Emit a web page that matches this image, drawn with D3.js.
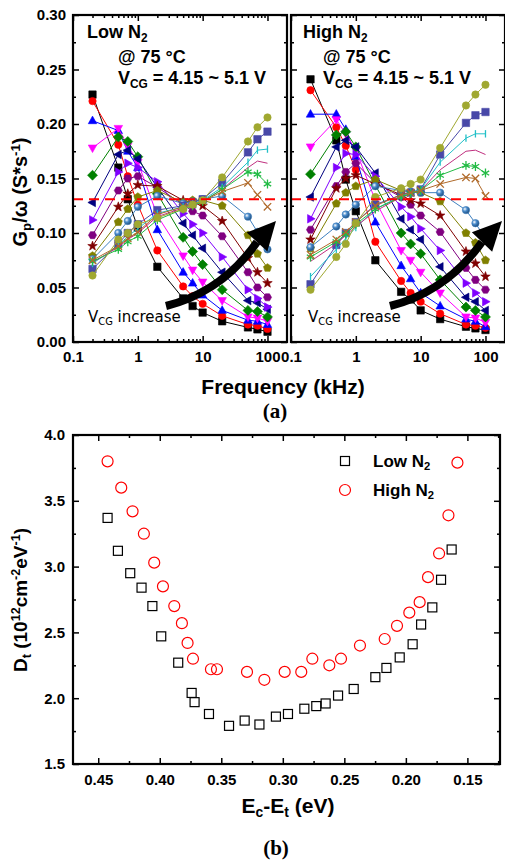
<!DOCTYPE html>
<html>
<head>
<meta charset="utf-8">
<script src="https://cdn.jsdelivr.net/npm/d3@7"></script>
<style>
body { margin: 0; background: #fff; }
svg { font-family: "Liberation Sans", Arial, sans-serif; font-weight: bold; }
</style>
</head>
<body>
<svg id="fig" width="505" height="863"></svg>
<script>
// ---- data (a): Gp/w vs frequency, one row per VCG step (4.15 -> 5.1 V)
var freqKHz = [0.2, 0.5, 0.7, 1, 2, 5, 7, 10, 20, 50, 70, 100];

var gpLowN2 = [
  [0.227, 0.160, 0.131, 0.105, 0.069, 0.040, 0.033, 0.027, 0.019, 0.0134, 0.0116, 0.0094],
  [0.221, 0.181, 0.152, 0.126, 0.084, 0.051, 0.042, 0.035, 0.024, 0.016, 0.015, 0.012],
  [0.203, 0.194, 0.175, 0.160, 0.103, 0.064, 0.054, 0.043, 0.029, 0.020, 0.019, 0.016],
  [0.178, 0.196, 0.180, 0.165, 0.116, 0.079, 0.066, 0.055, 0.038, 0.023, 0.022, 0.019],
  [0.153, 0.188, 0.184, 0.170, 0.136, 0.096, 0.083, 0.071, 0.048, 0.029, 0.028, 0.023],
  [0.128, 0.172, 0.176, 0.168, 0.142, 0.109, 0.098, 0.086, 0.064, 0.038, 0.036, 0.030],
  [0.112, 0.156, 0.164, 0.160, 0.147, 0.118, 0.108, 0.100, 0.078, 0.048, 0.040, 0.032],
  [0.098, 0.139, 0.150, 0.152, 0.142, 0.126, 0.120, 0.116, 0.097, 0.064, 0.050, 0.041],
  [0.088, 0.124, 0.136, 0.144, 0.143, 0.130, 0.128, 0.125, 0.111, 0.077, 0.064, 0.054],
  [0.079, 0.110, 0.122, 0.133, 0.139, 0.128, 0.130, 0.130, 0.125, 0.098, 0.081, 0.068],
  [0.076, 0.100, 0.111, 0.124, 0.134, 0.127, 0.129, 0.131, 0.134, 0.115, 0.101, 0.085],
  [0.067, 0.090, 0.100, 0.108, 0.121, 0.125, 0.128, 0.131, 0.146, 0.174, 0.186, 0.193],
  [0.072, 0.088, 0.097, 0.104, 0.118, 0.124, 0.127, 0.130, 0.142, 0.165, 0.176, 0.177],
  [0.073, 0.087, 0.094, 0.100, 0.115, 0.123, 0.126, 0.129, 0.140, 0.160, 0.166, 0.164],
  [0.074, 0.085, 0.092, 0.097, 0.112, 0.122, 0.125, 0.129, 0.140, 0.156, 0.154, 0.145],
  [0.075, 0.088, 0.095, 0.101, 0.117, 0.124, 0.127, 0.129, 0.138, 0.146, 0.135, 0.124],
  [0.061, 0.094, 0.100, 0.108, 0.114, 0.122, 0.126, 0.130, 0.151, 0.184, 0.197, 0.206]
];

var gpHighN2 = [
  [0.241, 0.185, 0.149, 0.120, 0.075, 0.046, 0.039, 0.029, 0.021, 0.014, 0.0125, 0.011],
  [0.231, 0.197, 0.180, 0.158, 0.092, 0.056, 0.045, 0.037, 0.026, 0.016, 0.015, 0.013],
  [0.209, 0.209, 0.195, 0.170, 0.110, 0.070, 0.058, 0.045, 0.033, 0.021, 0.019, 0.014],
  [0.179, 0.204, 0.191, 0.176, 0.130, 0.084, 0.075, 0.064, 0.045, 0.023, 0.022, 0.018],
  [0.154, 0.190, 0.193, 0.179, 0.144, 0.100, 0.090, 0.081, 0.057, 0.032, 0.029, 0.023],
  [0.133, 0.179, 0.185, 0.179, 0.155, 0.113, 0.103, 0.094, 0.069, 0.041, 0.037, 0.029],
  [0.113, 0.160, 0.173, 0.172, 0.152, 0.124, 0.115, 0.104, 0.084, 0.054, 0.045, 0.037],
  [0.103, 0.143, 0.156, 0.164, 0.146, 0.133, 0.126, 0.116, 0.101, 0.068, 0.057, 0.048],
  [0.094, 0.141, 0.150, 0.153, 0.145, 0.135, 0.130, 0.127, 0.116, 0.083, 0.072, 0.060],
  [0.086, 0.127, 0.137, 0.143, 0.149, 0.139, 0.138, 0.137, 0.129, 0.100, 0.091, 0.075],
  [0.087, 0.106, 0.117, 0.126, 0.143, 0.139, 0.138, 0.137, 0.137, 0.121, 0.109, 0.095],
  [0.053, 0.089, 0.100, 0.110, 0.126, 0.135, 0.137, 0.140, 0.172, 0.201, 0.208, 0.211],
  [0.060, 0.085, 0.095, 0.105, 0.122, 0.134, 0.137, 0.140, 0.165, 0.187, 0.191, 0.191],
  [0.074, 0.090, 0.098, 0.106, 0.120, 0.133, 0.136, 0.139, 0.158, 0.175, 0.176, 0.172],
  [0.078, 0.092, 0.099, 0.108, 0.122, 0.133, 0.136, 0.139, 0.153, 0.162, 0.161, 0.155],
  [0.080, 0.094, 0.101, 0.110, 0.125, 0.135, 0.137, 0.139, 0.145, 0.151, 0.150, 0.134],
  [0.048, 0.078, 0.090, 0.109, 0.133, 0.141, 0.145, 0.149, 0.178, 0.217, 0.227, 0.236]
];

var seriesColors = ['#000000', '#ff0000', '#0000ff', '#ff00ff', '#008000', '#000080', '#8000ff', '#800080',
                    '#800000', '#808000', '#3e7fbf', '#4848a8', '#22c0c8', '#c0307f', '#22bb44', '#b06a2a', '#a0a830'];
var seriesShapes = ['square', 'circle', 'up', 'down', 'diamond', 'left', 'right', 'hex',
                    'star', 'pent', 'sphere', 'square', 'ibar', 'none', 'asterisk', 'x', 'circle'];

var freqTicks = [0.1, 1, 10, 100];
var gpTicks = [0, 0.05, 0.10, 0.15, 0.20, 0.25, 0.30];
var gpRef = 0.131;

// ---- data (b): trap density vs energy
var lowEnergy = [0.4424, 0.434, 0.424, 0.4148, 0.406, 0.3988, 0.385, 0.3741, 0.3717, 0.360, 0.3437, 0.331, 0.319, 0.3056,
                 0.2958, 0.2825, 0.2728, 0.2652, 0.2551, 0.2424, 0.2248, 0.2158, 0.205, 0.1945, 0.1876, 0.1785, 0.1714, 0.1628];
var lowDt = [3.37, 3.12, 2.95, 2.84, 2.70, 2.47, 2.27, 2.04, 1.97, 1.88, 1.79, 1.83, 1.80, 1.86,
             1.88, 1.92, 1.94, 1.96, 2.02, 2.07, 2.16, 2.23, 2.31, 2.41, 2.56, 2.69, 2.90, 3.13];
var highEnergy = [0.4424, 0.4313, 0.4221, 0.4129, 0.4045, 0.3974, 0.3882, 0.382, 0.3774, 0.373, 0.3584, 0.3535, 0.3291, 0.315,
                  0.2985, 0.285, 0.276, 0.2622, 0.2527, 0.2373, 0.2172, 0.2072, 0.1972, 0.1888, 0.182, 0.173, 0.1654, 0.1581];
var highDt = [3.80, 3.60, 3.42, 3.25, 3.03, 2.85, 2.70, 2.57, 2.42, 2.30, 2.22, 2.22, 2.20, 2.14,
              2.20, 2.20, 2.30, 2.25, 2.30, 2.40, 2.45, 2.55, 2.65, 2.73, 2.92, 3.10, 3.39, 3.79];
var energyTicks = [0.45, 0.40, 0.35, 0.30, 0.25, 0.20, 0.15];
var dtTicks = [1.5, 2.0, 2.5, 3.0, 3.5, 4.0];

var svg = d3.select('#fig');

var defs = svg.append('defs');
var grad = defs.append('radialGradient').attr('id', 'sph').attr('cx', '35%').attr('cy', '35%').attr('r', '65%');
grad.append('stop').attr('offset', '0%').attr('stop-color', '#ffffff');
grad.append('stop').attr('offset', '45%').attr('stop-color', '#4a8ccc');
grad.append('stop').attr('offset', '100%').attr('stop-color', '#1f4f80');

function markerPath(type, r) {
  var p, i, a;
  switch (type) {
    case 'square': return 'M' + (-r) + ',' + (-r) + 'h' + 2 * r + 'v' + 2 * r + 'h' + (-2 * r) + 'Z';
    case 'circle':
    case 'sphere':
      return 'M' + r + ',0A' + r + ',' + r + ' 0 1,1 ' + (-r) + ',0A' + r + ',' + r + ' 0 1,1 ' + r + ',0Z';
    case 'up': return 'M0,' + (-r * 1.25) + 'L' + (r * 1.15) + ',' + (r * 0.8) + 'L' + (-r * 1.15) + ',' + (r * 0.8) + 'Z';
    case 'down': return 'M0,' + (r * 1.25) + 'L' + (r * 1.15) + ',' + (-r * 0.8) + 'L' + (-r * 1.15) + ',' + (-r * 0.8) + 'Z';
    case 'left': return 'M' + (-r * 1.25) + ',0L' + (r * 0.8) + ',' + (-r * 1.15) + 'L' + (r * 0.8) + ',' + (r * 1.15) + 'Z';
    case 'right': return 'M' + (r * 1.25) + ',0L' + (-r * 0.8) + ',' + (-r * 1.15) + 'L' + (-r * 0.8) + ',' + (r * 1.15) + 'Z';
    case 'diamond': return 'M0,' + (-r * 1.35) + 'L' + (r * 1.35) + ',0L0,' + (r * 1.35) + 'L' + (-r * 1.35) + ',0Z';
    case 'hex':
      p = [];
      for (i = 0; i < 6; i++) { a = Math.PI / 3 * i; p.push([r * 1.1 * Math.cos(a), r * 1.1 * Math.sin(a)]); }
      return 'M' + p.join('L') + 'Z';
    case 'pent':
      p = [];
      for (i = 0; i < 5; i++) { a = -Math.PI / 2 + 2 * Math.PI / 5 * i; p.push([r * 1.15 * Math.cos(a), r * 1.15 * Math.sin(a)]); }
      return 'M' + p.join('L') + 'Z';
    case 'star':
      p = [];
      for (i = 0; i < 10; i++) {
        a = -Math.PI / 2 + Math.PI / 5 * i;
        var rr = i % 2 ? r * 0.55 : r * 1.35;
        p.push([rr * Math.cos(a), rr * Math.sin(a)]);
      }
      return 'M' + p.join('L') + 'Z';
    case 'ibar': return 'M0,' + (-r) + 'V' + r;
    case 'asterisk':
      return 'M0,' + (-r * 1.2) + 'V' + (r * 1.2) + 'M' + (-r) + ',' + (-r * 0.6) + 'L' + r + ',' + (r * 0.6) +
             'M' + (-r) + ',' + (r * 0.6) + 'L' + r + ',' + (-r * 0.6);
    case 'x': return 'M' + (-r) + ',' + (-r) + 'L' + r + ',' + r + 'M' + (-r) + ',' + r + 'L' + r + ',' + (-r);
  }
  return '';
}
var strokeOnly = { ibar: 1, asterisk: 1, x: 1, none: 1 };

function cleanAxis(g) {
  g.select('.domain').remove();
  g.selectAll('line').attr('stroke', '#000').attr('stroke-width', 1.5);
  g.selectAll('text').style('font-family', '"Liberation Sans", Arial, sans-serif')
    .style('font-weight', 'bold').style('font-size', '15px').attr('fill', '#000');
}

// sub / superscript helper (small shifts so stacked lines don't collide)
function richText(sel, parts, size) {
  parts.forEach(function (p) {
    var t = sel.append('tspan').text(p[0]);
    if (p[1] === 'sub') t.attr('baseline-shift', (-size * 0.2) + 'px').style('font-size', (size * 0.66) + 'px');
    if (p[1] === 'sup') t.attr('baseline-shift', (size * 0.36) + 'px').style('font-size', (size * 0.66) + 'px');
  });
  return sel;
}

// ================= (a) =================
var topY0 = 15, topY1 = 342;
var yGp = d3.scaleLinear().domain([0, 0.30]).range([topY1, topY0]);
var gpMinor = d3.range(0.025, 0.30, 0.05);
var freqMinor = [];
[0.1, 1, 10, 100].forEach(function (d) { for (var k = 2; k <= 9; k++) { if (d * k < 200) freqMinor.push(d * k); } });

function drawPanel(x0, x1, rows, title, textX, arrow) {
  var x = d3.scaleLog().domain([0.1, 200]).range([x0, x1]);
  var g = svg.append('g');

  // axes (ticks inward)
  g.append('g').attr('transform', 'translate(0,' + topY1 + ')')
    .call(d3.axisBottom(x).tickValues(freqTicks).tickSize(-6).tickSizeOuter(0).tickPadding(9).tickFormat(d3.format('~g')))
    .call(cleanAxis);
  g.append('g').attr('transform', 'translate(0,' + topY1 + ')')
    .call(d3.axisBottom(x).tickValues(freqMinor).tickSize(-3).tickSizeOuter(0).tickFormat('')).call(cleanAxis);
  g.append('g').attr('transform', 'translate(0,' + topY0 + ')')
    .call(d3.axisTop(x).tickValues(freqTicks).tickSize(-6).tickSizeOuter(0).tickFormat('')).call(cleanAxis);
  g.append('g').attr('transform', 'translate(0,' + topY0 + ')')
    .call(d3.axisTop(x).tickValues(freqMinor).tickSize(-3).tickSizeOuter(0).tickFormat('')).call(cleanAxis);
  g.append('g').attr('transform', 'translate(' + x0 + ',0)')
    .call(d3.axisLeft(yGp).tickValues(gpTicks).tickSize(-6).tickSizeOuter(0).tickPadding(7)
      .tickFormat(x0 < 100 ? d3.format('.2f') : '')).call(cleanAxis);
  g.append('g').attr('transform', 'translate(' + x0 + ',0)')
    .call(d3.axisLeft(yGp).tickValues(gpMinor).tickSize(-3).tickSizeOuter(0).tickFormat('')).call(cleanAxis);
  g.append('g').attr('transform', 'translate(' + x1 + ',0)')
    .call(d3.axisRight(yGp).tickValues(gpTicks).tickSize(-6).tickSizeOuter(0).tickFormat('')).call(cleanAxis);
  g.append('g').attr('transform', 'translate(' + x1 + ',0)')
    .call(d3.axisRight(yGp).tickValues(gpMinor).tickSize(-3).tickSizeOuter(0).tickFormat('')).call(cleanAxis);

  // series
  var line = d3.line().x(function (d, i) { return x(freqKHz[i]); }).y(function (d) { return yGp(d); });
  rows.forEach(function (row, s) {
    var col = seriesColors[s], shape = seriesShapes[s];
    g.append('path').datum(row).attr('d', line).attr('fill', 'none').attr('stroke', col).attr('stroke-width', 1);
    if (shape === 'none') return;
    g.selectAll(null).data(row).enter().append('path')
      .attr('transform', function (d, i) { return 'translate(' + x(freqKHz[i]) + ',' + yGp(d) + ')'; })
      .attr('d', markerPath(shape, 3.7))
      .attr('fill', strokeOnly[shape] ? 'none' : (shape === 'sphere' ? 'url(#sph)' : col))
      .attr('stroke', col).attr('stroke-width', strokeOnly[shape] ? 1.3 : 0.6);
  });

  // reference level
  g.append('line').attr('x1', x0).attr('x2', x1).attr('y1', yGp(gpRef)).attr('y2', yGp(gpRef))
    .attr('stroke', '#ff0000').attr('stroke-width', 2).attr('stroke-dasharray', '10,6');

  // frame
  g.append('rect').attr('x', x0).attr('y', topY0).attr('width', x1 - x0).attr('height', topY1 - topY0)
    .attr('fill', 'none').attr('stroke', '#000').attr('stroke-width', 2.2);

  // labels
  richText(g.append('text').attr('x', textX[0]).attr('y', 38).style('font-size', '18px'), [[title, ''], ['2', 'sub']], 18);
  g.append('text').attr('x', textX[1]).attr('y', 63).style('font-size', '18px').text('@ 75 \u00B0C');
  richText(g.append('text').attr('x', textX[1]).attr('y', 84).style('font-size', '18px'),
    [['V', ''], ['CG', 'sub'], [' = 4.15 ~ 5.1 V', '']], 18);

  // VCG increase arrow
  g.append('path')
    .attr('d', 'M' + arrow.s + 'Q' + arrow.c + ' ' + arrow.b)
    .attr('fill', 'none').attr('stroke', '#000').attr('stroke-width', 8);
  var b = arrow.b, t = arrow.t;
  var dx = t[0] - b[0], dy = t[1] - b[1], len = Math.sqrt(dx * dx + dy * dy);
  var px = -dy / len * 14, py = dx / len * 14;
  g.append('path')
    .attr('d', 'M' + t + 'L' + [b[0] + px, b[1] + py] + 'L' + [b[0] - px, b[1] - py] + 'Z')
    .attr('fill', '#000');
  richText(g.append('text').attr('x', textX[2]).attr('y', 322)
      .style('font-family', '"DejaVu Sans", Verdana, sans-serif').style('font-weight', 'normal').style('font-size', '15px'),
    [['V', ''], ['CG', 'sub'], [' increase', '']], 15);
}

drawPanel(73, 287, gpLowN2, 'Low N', [87, 118, 88],
  { s: [166, 306], c: [222, 292], b: [257, 242], t: [276, 221] });
drawPanel(291, 505, gpHighN2, 'High N', [303, 323, 308],
  { s: [390, 306], c: [446, 292], b: [482, 242], t: [502, 221] });

// axis titles (a)
richText(svg.append('text').attr('transform', 'translate(27,192) rotate(-90)').attr('text-anchor', 'middle')
    .style('font-size', '20px'),
  [['G', ''], ['p', 'sub'], ['/\u03C9 (S*s', ''], ['-1', 'sup'], [')', '']], 20);
svg.append('text').attr('x', 283).attr('y', 394).attr('text-anchor', 'middle').style('font-size', '21px')
  .text('Frequency (kHz)');
svg.append('text').attr('x', 275).attr('y', 418).attr('text-anchor', 'middle')
  .style('font-family', '"Liberation Serif", "Times New Roman", serif').style('font-size', '21px').text('(a)');

// ================= (b) =================
var bx0 = 73, bx1 = 500, by0 = 435, by1 = 764;
var xE = d3.scaleLinear().domain([0.4705, 0.1235]).range([bx0, bx1]);
var yD = d3.scaleLinear().domain([1.5, 4.0]).range([by1, by0]);
var energyMinor = [0.425, 0.375, 0.325, 0.275, 0.225, 0.175, 0.125];
var dtMinor = [1.75, 2.25, 2.75, 3.25, 3.75];
var gb = svg.append('g');

gb.append('g').attr('transform', 'translate(0,' + by1 + ')')
  .call(d3.axisBottom(xE).tickValues(energyTicks).tickSize(-6).tickSizeOuter(0).tickPadding(10).tickFormat(d3.format('.2f')))
  .call(cleanAxis);
gb.append('g').attr('transform', 'translate(0,' + by1 + ')')
  .call(d3.axisBottom(xE).tickValues(energyMinor).tickSize(-3).tickSizeOuter(0).tickFormat('')).call(cleanAxis);
gb.append('g').attr('transform', 'translate(0,' + by0 + ')')
  .call(d3.axisTop(xE).tickValues(energyTicks).tickSize(-6).tickSizeOuter(0).tickFormat('')).call(cleanAxis);
gb.append('g').attr('transform', 'translate(0,' + by0 + ')')
  .call(d3.axisTop(xE).tickValues(energyMinor).tickSize(-3).tickSizeOuter(0).tickFormat('')).call(cleanAxis);
gb.append('g').attr('transform', 'translate(' + bx0 + ',0)')
  .call(d3.axisLeft(yD).tickValues(dtTicks).tickSize(-6).tickSizeOuter(0).tickPadding(8).tickFormat(d3.format('.1f')))
  .call(cleanAxis);
gb.append('g').attr('transform', 'translate(' + bx0 + ',0)')
  .call(d3.axisLeft(yD).tickValues(dtMinor).tickSize(-3).tickSizeOuter(0).tickFormat('')).call(cleanAxis);
gb.append('g').attr('transform', 'translate(' + bx1 + ',0)')
  .call(d3.axisRight(yD).tickValues(dtTicks).tickSize(-6).tickSizeOuter(0).tickFormat('')).call(cleanAxis);
gb.append('g').attr('transform', 'translate(' + bx1 + ',0)')
  .call(d3.axisRight(yD).tickValues(dtMinor).tickSize(-3).tickSizeOuter(0).tickFormat('')).call(cleanAxis);

gb.selectAll('.low').data(lowDt).enter().append('rect')
  .attr('x', function (d, i) { return xE(lowEnergy[i]) - 4.5; })
  .attr('y', function (d) { return yD(d) - 4.5; })
  .attr('width', 9).attr('height', 9)
  .attr('fill', 'none').attr('stroke', '#000').attr('stroke-width', 1.2);
gb.selectAll('.high').data(highDt).enter().append('circle')
  .attr('cx', function (d, i) { return xE(highEnergy[i]); })
  .attr('cy', function (d) { return yD(d); })
  .attr('r', 5.5)
  .attr('fill', 'none').attr('stroke', '#ff0000').attr('stroke-width', 1.2);

gb.append('rect').attr('x', bx0).attr('y', by0).attr('width', bx1 - bx0).attr('height', by1 - by0)
  .attr('fill', 'none').attr('stroke', '#000').attr('stroke-width', 2.2);

// legend
gb.append('rect').attr('x', 340.5).attr('y', 456.5).attr('width', 9).attr('height', 9)
  .attr('fill', 'none').attr('stroke', '#000').attr('stroke-width', 1.2);
gb.append('circle').attr('cx', 345).attr('cy', 490).attr('r', 5.5)
  .attr('fill', 'none').attr('stroke', '#ff0000').attr('stroke-width', 1.2);
richText(gb.append('text').attr('x', 373).attr('y', 467).style('font-size', '17px'), [['Low N', ''], ['2', 'sub']], 17);
richText(gb.append('text').attr('x', 373).attr('y', 496).style('font-size', '17px'), [['High N', ''], ['2', 'sub']], 17);

// axis titles (b)
richText(svg.append('text').attr('transform', 'translate(27,600) rotate(-90)').attr('text-anchor', 'middle')
    .style('font-size', '19px'),
  [['D', ''], ['t', 'sub'], [' (10', ''], ['12', 'sup'], ['cm', ''], ['-2', 'sup'], ['eV', ''], ['-1', 'sup'], [')', '']], 19);
richText(svg.append('text').attr('x', 288).attr('y', 813).attr('text-anchor', 'middle').style('font-size', '21px'),
  [['E', ''], ['c', 'sub'], ['-E', ''], ['t', 'sub'], [' (eV)', '']], 21);
svg.append('text').attr('x', 276).attr('y', 855).attr('text-anchor', 'middle')
  .style('font-family', '"Liberation Serif", "Times New Roman", serif').style('font-size', '21px').text('(b)');
</script>
</body>
</html>
